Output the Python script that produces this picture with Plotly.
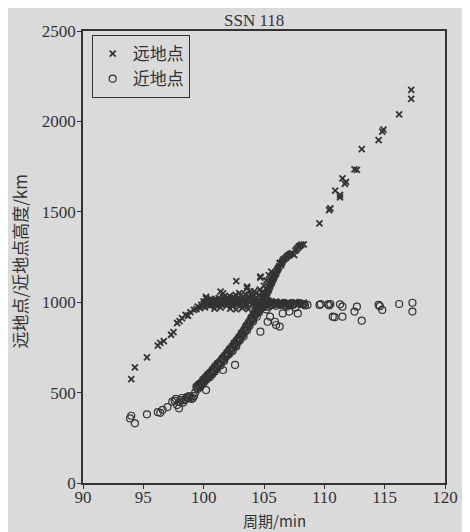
import plotly.graph_objects as go

# 远地点 (apogee) points: period (min), height (km)
apo_period = [
    94.0, 94.3, 95.3, 96.2, 96.4, 96.7, 97.3, 97.5, 97.8, 98.0, 98.2, 98.5, 98.7, 98.9, 99.2, 99.4,
    99.5, 99.7, 99.8, 99.9, 100.0, 100.1, 100.2, 100.2, 100.3, 100.4, 100.5, 100.6, 100.7, 100.8, 100.8,
    100.9, 101.0, 101.1, 101.2, 101.3, 101.4, 101.4, 101.5, 101.6, 101.6, 101.7, 101.8, 101.9, 102.0,
    102.1, 102.2, 102.3, 102.4, 102.5, 102.6, 102.7, 102.7, 102.8, 102.9, 103.0, 103.1, 103.2, 103.3,
    103.4, 103.5, 103.6, 103.6, 103.7, 103.8, 103.9, 104.0, 104.1, 104.2, 104.3, 104.4, 104.5, 104.6,
    104.7, 104.7, 104.8, 104.9, 105.0, 105.1, 105.3, 105.5, 105.7, 105.9, 106.1, 106.3, 106.6, 106.9,
    107.2, 107.5, 107.8,
    100.0, 100.05, 100.15, 100.25, 100.35, 100.45, 100.55, 100.65, 100.75, 100.85, 100.95, 101.05,
    101.15, 101.25, 101.35, 101.45, 101.55, 101.65, 101.75, 101.85, 101.95, 102.05, 102.15, 102.25,
    102.35, 102.45, 102.55, 102.65, 102.75, 102.85, 102.95, 103.05, 103.15, 103.25, 103.35, 103.45,
    103.55, 103.65, 103.75, 103.85, 103.95, 104.05, 104.15, 104.25, 104.35, 104.45, 104.55, 104.65,
    104.75, 104.85, 104.95, 105.05, 105.15, 105.25, 105.35, 105.45, 105.6, 105.8, 106.0, 106.2,
    106.4, 106.7, 107.0, 107.3, 107.6, 108.0, 108.3,
    102.2, 102.7, 103.2, 103.7, 104.2, 104.6, 101.4, 100.9,
    105.0, 105.1, 105.2, 105.3, 105.4, 105.5, 105.6, 105.6, 105.7, 105.8, 105.9, 106.0, 106.1, 106.2,
    106.3, 106.4, 106.5, 106.6, 106.8, 107.0, 107.2, 107.5, 107.6, 107.8, 108.0, 108.1, 108.3,
    105.05, 105.15, 105.25, 105.35, 105.45, 105.55, 105.65, 105.75, 105.85, 105.95, 106.05, 106.15,
    106.25, 106.35, 106.45, 106.55, 106.7, 106.9, 107.1, 107.35, 107.7, 107.9, 104.9, 105.0, 105.2,
    105.4,
    109.6, 110.4, 110.5, 110.9, 111.3, 111.3, 111.5, 111.7, 111.8, 112.5, 112.7, 113.1, 114.5, 114.8,
    114.9, 116.2, 117.2, 117.2,
]
apo_height = [
    575, 640, 695, 760, 775, 785, 820, 835, 885, 895, 912, 930, 925, 945, 957, 962,
    975, 968, 985, 978, 990, 972, 1021, 1030, 985, 995, 980, 1000, 988, 994, 1010,
    1005, 982, 998, 1010, 990, 1003, 1058, 985, 1049, 1015, 995, 1008, 980, 1000,
    1020, 990, 1012, 975, 1030, 998, 1117, 1008, 985, 1025, 995, 1040, 1005, 978,
    1018, 990, 1077, 1086, 1030, 1000, 1045, 985, 1015, 1060, 995, 1025, 970, 1040,
    1136, 1141, 1005, 990, 1020, 985, 1000, 995, 990, 1000, 992, 998, 990, 995,
    992, 996, 990,
    1005, 995, 1000, 990, 1008, 1012, 993, 1015, 1002, 985, 1018, 1002,
    990, 1022, 1000, 1012, 995, 1030, 1005, 1020, 998, 1012, 1035, 1000,
    985, 1015, 1005, 1040, 995, 1010, 1050, 1010, 990, 1025, 1000, 1045,
    1012, 985, 1020, 1060, 1010, 1035, 995, 1020, 1050, 1005, 1015, 1070,
    1030, 1050, 1008, 1045, 1005, 1070, 1010, 1000, 1005, 995, 1003, 990,
    1000, 985, 1000, 988, 1000, 995, 998,
    965, 960, 968, 962, 975, 980, 970, 965,
    1000, 1025, 1040, 1058, 1070, 1090, 1105, 1169, 1120, 1135, 1150, 1160, 1178, 1190,
    1217, 1205, 1222, 1236, 1245, 1258, 1268, 1261, 1285, 1300, 1313, 1318, 1320,
    1015, 1035, 1050, 1065, 1080, 1098, 1112, 1128, 1142, 1155, 1170, 1185,
    1198, 1212, 1215, 1230, 1240, 1252, 1262, 1272, 1292, 1308, 1060, 1090, 1120,
    1150,
    1436, 1510, 1519, 1617, 1593, 1580, 1685, 1654, 1665, 1735, 1732, 1847, 1897, 1943,
    1955, 2039, 2174, 2124,
]

# 近地点 (perigee) points: period (min), height (km)
peri_period = [
    93.9, 94.0, 94.3, 95.3, 96.2, 96.4, 96.6, 97.0, 97.4, 97.8, 97.96, 98.1, 98.3, 98.5, 98.7, 98.9,
    99.0, 99.2, 99.3, 97.6, 97.7, 98.0, 98.2, 98.4, 98.6, 98.8, 99.1,
    99.4, 99.5, 99.6, 99.7, 99.8, 99.9, 100.0, 100.1, 100.2, 100.2, 100.3, 100.4, 100.5, 100.6, 100.7,
    100.8, 100.9, 101.0, 101.1, 101.2, 101.3, 101.4, 101.5, 101.6, 101.6, 101.7, 101.8, 101.9, 102.0,
    102.1, 102.2, 102.3, 102.4, 102.5, 102.6, 102.6, 102.7, 102.8, 102.9, 103.0, 103.1, 103.2, 103.3,
    103.4, 103.5, 103.6, 103.7, 103.8, 103.9, 104.0, 104.1, 104.2, 104.3, 104.4, 104.5, 104.6, 104.7,
    104.7, 104.8, 104.9, 105.0,
    99.45, 99.55, 99.65, 99.75, 99.85, 99.95, 100.05, 100.15, 100.25, 100.35, 100.45, 100.55, 100.65,
    100.75, 100.85, 100.95, 101.05, 101.15, 101.25, 101.35, 101.45, 101.55, 101.65, 101.75, 101.85,
    101.95, 102.05, 102.15, 102.25, 102.35, 102.45, 102.55, 102.65, 102.75, 102.85, 102.95, 103.05,
    103.15, 103.25, 103.35, 103.45, 103.55, 103.65, 103.75, 103.85, 103.95, 104.05, 104.15, 104.25,
    104.35, 104.45, 104.55, 104.65, 104.75, 104.85, 104.95, 105.05, 105.1,
    105.15, 105.3, 105.5, 105.7, 105.9, 106.1, 106.3, 106.5, 106.8, 107.0, 107.5, 107.9, 108.2, 108.6,
    105.3, 105.5, 105.9, 106.0, 106.3, 106.55, 107.1, 105.2, 105.4, 105.6, 105.8, 106.0, 106.2, 106.4,
    106.7, 106.9, 107.2, 107.4, 107.6, 107.8, 108.0, 108.3, 108.4, 109.6, 109.7, 110.3, 110.4, 110.5,
    110.7, 110.85, 111.3, 111.5, 111.5, 112.5, 112.7, 113.1, 114.5, 114.6, 114.8, 116.2, 117.3, 117.3,
]
peri_height = [
    357, 372, 330, 380, 392, 388, 405, 420, 450, 431, 413, 459, 445, 463, 470, 474,
    465, 481, 500, 455, 465, 448, 470, 458, 475, 480, 470,
    533, 520, 545, 530, 542, 560, 555, 575, 514, 580, 590, 597, 585, 610, 600,
    622, 616, 640, 632, 655, 662, 650, 680, 625, 690, 675, 700, 708, 720,
    712, 735, 745, 730, 763, 653, 770, 755, 785, 798, 790, 815, 825, 810,
    850, 864, 845, 880, 870, 900, 910, 895, 930, 939, 920, 955, 945, 837,
    968, 985, 975, 990,
    525, 540, 535, 552, 548, 570, 565, 585, 572, 600, 590, 612, 605,
    628, 620, 645, 638, 660, 650, 672, 668, 690, 682, 705, 698,
    722, 715, 740, 728, 755, 748, 775, 762, 790, 780, 808, 800,
    830, 820, 845, 838, 870, 860, 892, 885, 915, 905, 935, 925,
    950, 942, 965, 958, 978, 970, 995, 985, 975,
    995, 990, 998, 985, 990, 995, 988, 992, 985, 990, 992, 995, 990, 985,
    892, 920, 892, 874, 865, 938, 948, 960, 975, 985, 995, 980, 990, 985,
    995, 975, 988, 985, 970, 938, 990, 988, 982, 985, 990, 988, 982, 990,
    920, 917, 988, 975, 920, 948, 975, 898, 985, 978, 957, 990, 997, 948,
]

x_ticks = [90, 95, 100, 105, 110, 115, 120]
y_ticks = [0, 500, 1000, 1500, 2000, 2500]

ink = "#333333"
bg = "#dadada"
serif = "Liberation Serif, Times New Roman, serif"
cjk = "Noto Sans CJK SC, Liberation Serif, serif"

fig = go.Figure()
fig.add_trace(go.Scatter(
    x=apo_period, y=apo_height, mode="markers", name="远地点",
    marker=dict(symbol="x-thin-open", size=6, line=dict(color=ink, width=1.8), color=ink),
))
fig.add_trace(go.Scatter(
    x=peri_period, y=peri_height, mode="markers", name="近地点",
    marker=dict(symbol="circle-open", size=7, line=dict(color=ink, width=1.2), color=ink),
))

# the page body adds an 8 px offset, so the figure is 8 px smaller and margins shifted
fig.update_layout(
    width=462, height=524,
    margin=dict(l=75, r=15, t=23, b=49),
    paper_bgcolor=bg, plot_bgcolor=bg,
    title=dict(text="SSN 118", x=0.473, xref="paper", xanchor="center", y=1, yref="paper",
               yanchor="bottom", pad=dict(b=5), font=dict(family=serif, size=17, color=ink)),
    showlegend=True,
    legend=dict(x=0.024, y=0.991, xanchor="left", yanchor="top", bgcolor=bg,
                bordercolor=ink, borderwidth=1, font=dict(family=cjk, size=17, color=ink),
                itemwidth=30, tracegroupgap=0),
    font=dict(family=serif, color=ink),
    annotations=[
        dict(text="周期/min", xref="paper", yref="paper", x=0.53, y=0, xanchor="center",
             yanchor="middle", yshift=-37, showarrow=False,
             font=dict(family=cjk, size=15, color=ink)),
        dict(text="远地点/近地点高度/km", xref="paper", yref="paper", x=0, y=0.49,
             xanchor="center", yanchor="middle", xshift=-63, textangle=-90, showarrow=False,
             font=dict(family=cjk, size=17, color=ink)),
    ],
)
fig.update_xaxes(
    range=[90, 120], tickvals=x_ticks, ticktext=[str(v) for v in x_ticks],
    showgrid=False, zeroline=False, showline=True, linecolor=ink, linewidth=1.5, mirror=True,
    ticks="outside", ticklen=4, tickcolor=ink, tickfont=dict(family=serif, size=17, color=ink),
    ticklabelstandoff=-6,
)
fig.update_yaxes(
    range=[0, 2500], tickvals=y_ticks, ticktext=[str(v) for v in y_ticks],
    showgrid=False, zeroline=False, showline=True, linecolor=ink, linewidth=1.5, mirror=True,
    ticks="outside", ticklen=4, tickcolor=ink, tickfont=dict(family=serif, size=17, color=ink),
    ticklabelstandoff=-2,
)

fig.write_html("out.html")
